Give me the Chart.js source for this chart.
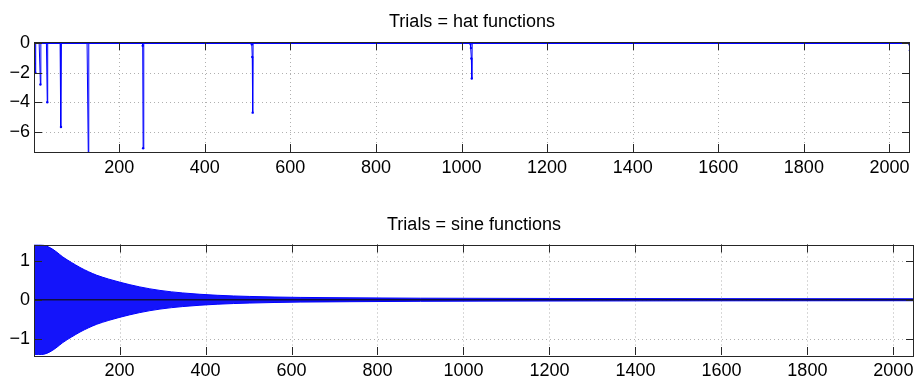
<!DOCTYPE html>
<html>
<head>
<meta charset="utf-8">
<title>Trials</title>
<script src="https://cdn.jsdelivr.net/npm/chart.js@4.4.1/dist/chart.umd.min.js"></script>
<style>
    html, body { margin: 0; padding: 0; background: #fff; }
    #wrap { position: relative; width: 914px; height: 376px; overflow: hidden; }
    canvas { position: absolute; left: 0; }
</style>
</head>
<body>
<div id="wrap">
    <canvas id="hatChart" width="914" height="190" style="top:0px"></canvas>
    <canvas id="sineChart" width="914" height="186" style="top:190px"></canvas>
</div>
<script>
// x axis (samples 1..2048)
var xMin = 1;
var xMax = 2048;
var xTicks = [200, 400, 600, 800, 1000, 1200, 1400, 1600, 1800, 2000];
var xTickLabels = ['200', '400', '600', '800', '1000', '1200', '1400', '1600', '1800', '2000'];

// top plot: hat functions, zero everywhere except these dips
var hatDipX = [1, 2, 4, 16, 32, 64, 128, 255, 256, 510, 511, 512, 1021, 1022, 1023, 1024, 2047, 2048];
var hatDipY = [-0.9, -1.4, -2.0, -2.8, -4.0, -5.67, -7.9, -0.2, -7.1, -0.1, -0.95, -4.7, -0.05, -0.35, -1.05, -2.4, -0.1, -0.5];
var hatYTicks = [0, -2, -4, -6];
var hatYTickLabels = ['0', '\u22122', '\u22124', '\u22126'];

// bottom plot: sine functions, envelope of the stems
var sineEnvX = [1, 12, 24, 38, 52, 68, 88, 108, 128, 147, 175, 201, 247, 294, 347, 427, 503, 620, 736, 900, 1200, 1600, 2048];
var sineEnvY = [1.41, 1.41, 1.40, 1.34, 1.24, 1.10, 0.96, 0.83, 0.72, 0.63, 0.53, 0.45, 0.33, 0.24, 0.175, 0.115, 0.085, 0.06, 0.05, 0.04, 0.033, 0.028, 0.025];
var sineYTicks = [-1, 0, 1];
var sineYTickLabels = ['\u22121', '0', '1'];

var blue = 'rgb(0,0,255)';
var fontFamily = "'Liberation Sans', Arial, Helvetica, sans-serif";
var fontSize = 18;

// hat series: every sample, zero unless it is one of the dips
var hatPoints = [];
for (var i = xMin; i <= xMax; i++) {
    var k = hatDipX.indexOf(i);
    hatPoints.push({ x: i, y: k >= 0 ? hatDipY[k] : 0 });
}

var sineUpper = sineEnvX.map(function (x, i) { return { x: x, y: sineEnvY[i] }; });
var sineLower = sineEnvX.map(function (x, i) { return { x: x, y: -sineEnvY[i] }; });
var sineBase = [{ x: xMin, y: 0 }, { x: xMax, y: 0 }];

// matlab style box: dotted grid, black frame, inward ticks, title
var matlabAxes = {
    id: 'matlabAxes',
    beforeDatasetsDraw: function (chart) {
        var ctx = chart.ctx, a = chart.chartArea;
        var xs = chart.scales.x, ys = chart.scales.y;
        ctx.save();
        ctx.strokeStyle = '#b0b0b0';
        ctx.lineWidth = 1;
        ctx.setLineDash([1, 3]);
        xs.ticks.forEach(function (t) {
            var px = Math.round(xs.getPixelForValue(t.value)) + 0.5;
            ctx.beginPath(); ctx.moveTo(px, a.top); ctx.lineTo(px, a.bottom); ctx.stroke();
        });
        ys.ticks.forEach(function (t) {
            var py = Math.round(ys.getPixelForValue(t.value)) + 0.5;
            ctx.beginPath(); ctx.moveTo(a.left, py); ctx.lineTo(a.right, py); ctx.stroke();
        });
        ctx.restore();
    },
    afterDraw: function (chart, args, opts) {
        var ctx = chart.ctx, a = chart.chartArea;
        var xs = chart.scales.x, ys = chart.scales.y;
        var tl = 8;
        ctx.save();
        ctx.strokeStyle = '#262626';
        ctx.lineWidth = 1;
        ctx.strokeRect(Math.round(a.left) + 0.5, Math.round(a.top) + 0.5, Math.round(a.right - a.left) - 1, Math.round(a.bottom - a.top));
        ctx.beginPath();
        xs.ticks.forEach(function (t) {
            var px = Math.round(xs.getPixelForValue(t.value)) + 0.5;
            ctx.moveTo(px, a.top); ctx.lineTo(px, a.top + tl);
            ctx.moveTo(px, a.bottom); ctx.lineTo(px, a.bottom - tl);
        });
        ys.ticks.forEach(function (t) {
            var py = Math.round(ys.getPixelForValue(t.value)) + 0.5;
            ctx.moveTo(a.left, py); ctx.lineTo(a.left + tl, py);
            ctx.moveTo(a.right, py); ctx.lineTo(a.right - tl, py);
        });
        ctx.stroke();
        // title
        ctx.fillStyle = '#000';
        ctx.font = fontSize + 'px ' + fontFamily;
        ctx.textAlign = 'center';
        ctx.textBaseline = 'alphabetic';
        ctx.fillText(opts.title, (a.left + a.right) / 2, a.top + opts.titleOffset);
        ctx.restore();
    }
};

function makeScales(yMin, yMax, yTicks, yLabels, xHeight) {
    return {
        x: {
            type: 'linear', min: xMin, max: xMax,
            grid: { display: false, drawTicks: false },
            border: { display: false },
            afterBuildTicks: function (s) { s.ticks = xTicks.map(function (v) { return { value: v }; }); },
            afterFit: function (s) {
                s.height = xHeight;
                s.paddingLeft = 0;
                s.paddingRight = 0;
            },
            ticks: {
                autoSkip: false, maxRotation: 0, padding: 5, color: '#000',
                font: { family: fontFamily, size: fontSize },
                callback: function (v) { return xTickLabels[xTicks.indexOf(v)]; }
            }
        },
        y: {
            type: 'linear', min: yMin, max: yMax,
            grid: { display: false, drawTicks: false },
            border: { display: false },
            afterBuildTicks: function (s) { s.ticks = yTicks.map(function (v) { return { value: v }; }); },
            afterFit: function (s) {
                s.width = 34;
                s.paddingTop = 0;
                s.paddingBottom = 0;
            },
            ticks: {
                autoSkip: false, padding: 4, color: '#000',
                font: { family: fontFamily, size: fontSize },
                callback: function (v) { return yLabels[yTicks.indexOf(v)]; }
            }
        }
    };
}

// top chart: hat functions
var hatCtx = document.getElementById('hatChart').getContext('2d');
var hatChart = new Chart(hatCtx, {
    type: 'line',
    data: {
        datasets: [{
            data: hatPoints,
            borderColor: blue,
            borderWidth: 1,
            pointRadius: 1.2,
            pointBackgroundColor: blue,
            pointBorderWidth: 0,
            tension: 0
        }]
    },
    options: {
        animation: false, responsive: false, devicePixelRatio: 1,
        layout: { padding: { top: 42, left: 0, right: 0, bottom: 0 } },
        plugins: {
            legend: { display: false }, tooltip: { enabled: false },
            matlabAxes: { title: 'Trials = hat functions', titleOffset: -15 }
        },
        scales: makeScales(-7.35, 0.06, hatYTicks, hatYTickLabels, 38)
    },
    plugins: [matlabAxes]
});

// bottom chart: sine functions
var sineCtx = document.getElementById('sineChart').getContext('2d');
var sineChart = new Chart(sineCtx, {
    type: 'line',
    data: {
        datasets: [{
            data: sineUpper,
            borderColor: blue, borderWidth: 1, pointRadius: 0,
            backgroundColor: 'rgb(20,20,250)',
            fill: '+1', cubicInterpolationMode: 'monotone', order: 2
        }, {
            data: sineLower,
            borderColor: blue, borderWidth: 1, pointRadius: 0,
            fill: false, cubicInterpolationMode: 'monotone', order: 1
        }, {
            data: sineBase,
            borderColor: '#101040', borderWidth: 1.5, pointRadius: 0,
            fill: false, order: 0
        }]
    },
    options: {
        animation: false, responsive: false, devicePixelRatio: 1,
        layout: { padding: { top: 54.5, left: 0, right: 0, bottom: 0 } },
        plugins: {
            legend: { display: false }, tooltip: { enabled: false },
            matlabAxes: { title: 'Trials = sine functions', titleOffset: -14.5 }
        },
        scales: makeScales(-1.42, 1.42, sineYTicks, sineYTickLabels, 21)
    },
    plugins: [matlabAxes]
});
</script>
</body>
</html>
